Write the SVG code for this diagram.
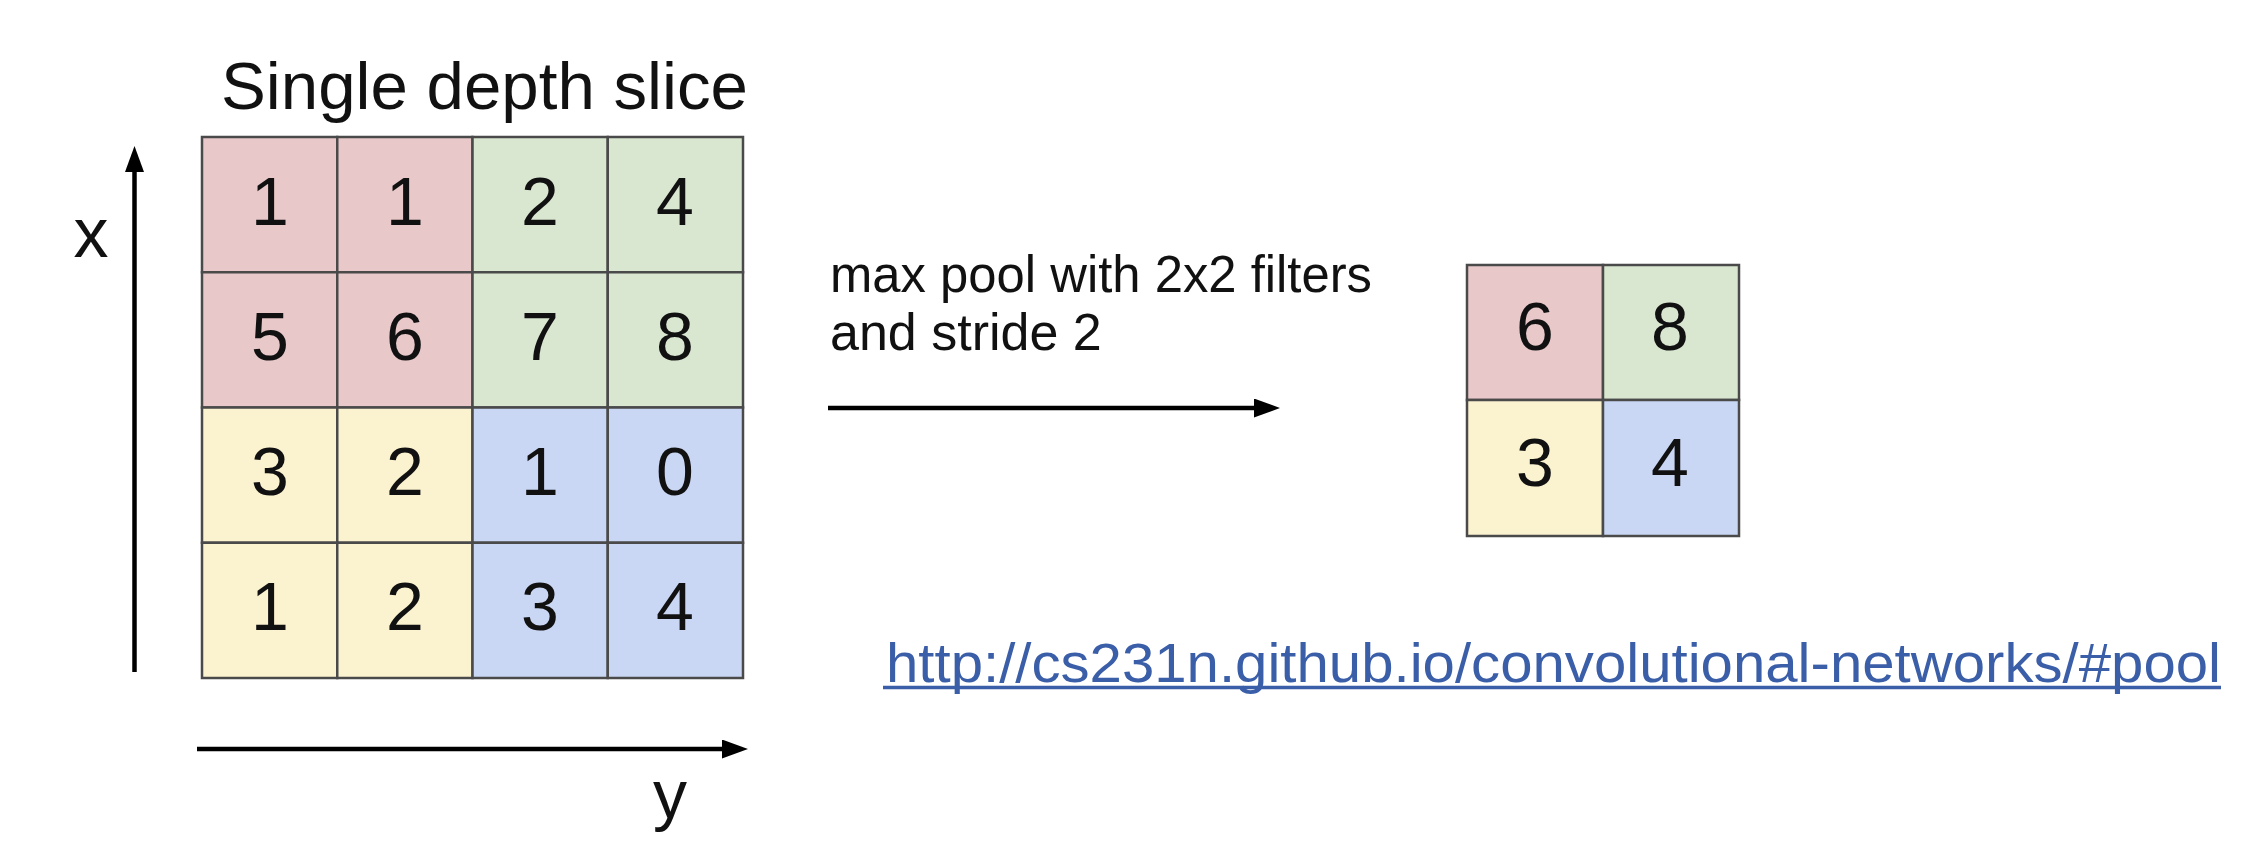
<svg xmlns="http://www.w3.org/2000/svg" width="2261" height="850" viewBox="0 0 2261 850">
<style>
.t{font-family:"Liberation Sans",Arial,sans-serif;fill:#111}
.d{font-family:"Liberation Sans",Arial,sans-serif;fill:#111;font-size:68px;text-anchor:middle}
.cell{stroke:#4a4a4a;stroke-width:2.5}
.r{fill:#e8c8c8}.g{fill:#d9e7d1}.yl{fill:#fbf2cf}.b{fill:#cad7f4}
.ax{stroke:#000;stroke-width:4.5;fill:none}
</style>
<defs>
<marker id="ah" viewBox="0 0 26 19" refX="5" refY="9.5" markerWidth="26" markerHeight="19" markerUnits="userSpaceOnUse" orient="auto"><path d="M0,0 L26,9.5 L0,19 Z" fill="#000"/></marker>
</defs>
<rect width="2261" height="850" fill="#fff"/>
<g id="title"><text class="t" x="221" y="109" font-size="66" textLength="527" lengthAdjust="spacingAndGlyphs">Single depth slice</text></g>
<g id="input-grid">
<rect class="cell r" x="202" y="137" width="135.25" height="135.25"/>
<rect class="cell r" x="337.25" y="137" width="135.25" height="135.25"/>
<rect class="cell g" x="472.5" y="137" width="135.25" height="135.25"/>
<rect class="cell g" x="607.75" y="137" width="135.25" height="135.25"/>
<rect class="cell r" x="202" y="272.25" width="135.25" height="135.25"/>
<rect class="cell r" x="337.25" y="272.25" width="135.25" height="135.25"/>
<rect class="cell g" x="472.5" y="272.25" width="135.25" height="135.25"/>
<rect class="cell g" x="607.75" y="272.25" width="135.25" height="135.25"/>
<rect class="cell yl" x="202" y="407.5" width="135.25" height="135.25"/>
<rect class="cell yl" x="337.25" y="407.5" width="135.25" height="135.25"/>
<rect class="cell b" x="472.5" y="407.5" width="135.25" height="135.25"/>
<rect class="cell b" x="607.75" y="407.5" width="135.25" height="135.25"/>
<rect class="cell yl" x="202" y="542.75" width="135.25" height="135.25"/>
<rect class="cell yl" x="337.25" y="542.75" width="135.25" height="135.25"/>
<rect class="cell b" x="472.5" y="542.75" width="135.25" height="135.25"/>
<rect class="cell b" x="607.75" y="542.75" width="135.25" height="135.25"/>
<text class="d" x="270" y="225">1</text><text class="d" x="405" y="225">1</text><text class="d" x="540" y="225">2</text><text class="d" x="675" y="225">4</text>
<text class="d" x="270" y="360">5</text><text class="d" x="405" y="360">6</text><text class="d" x="540" y="360">7</text><text class="d" x="675" y="360">8</text>
<text class="d" x="270" y="495">3</text><text class="d" x="405" y="495">2</text><text class="d" x="540" y="495">1</text><text class="d" x="675" y="495">0</text>
<text class="d" x="270" y="630">1</text><text class="d" x="405" y="630">2</text><text class="d" x="540" y="630">3</text><text class="d" x="675" y="630">4</text>
</g>
<g id="x-label"><text class="t" x="91" y="257" font-size="70" text-anchor="middle">x</text></g>
<g id="y-label"><text class="t" x="670" y="818" font-size="68" text-anchor="middle">y</text></g>
<g id="op-label">
<text class="t" x="830" y="292" font-size="52" textLength="542" lengthAdjust="spacingAndGlyphs">max pool with 2x2 filters</text>
<text class="t" x="830" y="350" font-size="52">and stride 2</text>
</g>
<g id="output-grid">
<rect class="cell r" x="1467" y="265" width="136" height="135"/>
<rect class="cell g" x="1603" y="265" width="136" height="135"/>
<rect class="cell yl" x="1467" y="400" width="136" height="136"/>
<rect class="cell b" x="1603" y="400" width="136" height="136"/>
<text class="d" x="1535" y="350">6</text><text class="d" x="1670" y="350">8</text>
<text class="d" x="1535" y="486">3</text><text class="d" x="1670" y="486">4</text>
</g>
<g id="url">
<text x="886" y="682" font-family="'Liberation Sans',Arial,sans-serif" font-size="56" fill="#3a5ea8" textLength="1335" lengthAdjust="spacingAndGlyphs">http://cs231n.github.io/convolutional-networks/#pool</text>
<line x1="883" y1="687.5" x2="2221" y2="687.5" stroke="#3a5ea8" stroke-width="3.5"/>
</g>
<g id="connectors">
<line class="ax" x1="134.5" y1="672" x2="134.5" y2="167" marker-end="url(#ah)"/>
<line class="ax" x1="197" y1="749" x2="727" y2="749" marker-end="url(#ah)"/>
<line class="ax" x1="828" y1="408" x2="1259" y2="408" stroke-width="4" marker-end="url(#ah)"/>
</g>
</svg>
